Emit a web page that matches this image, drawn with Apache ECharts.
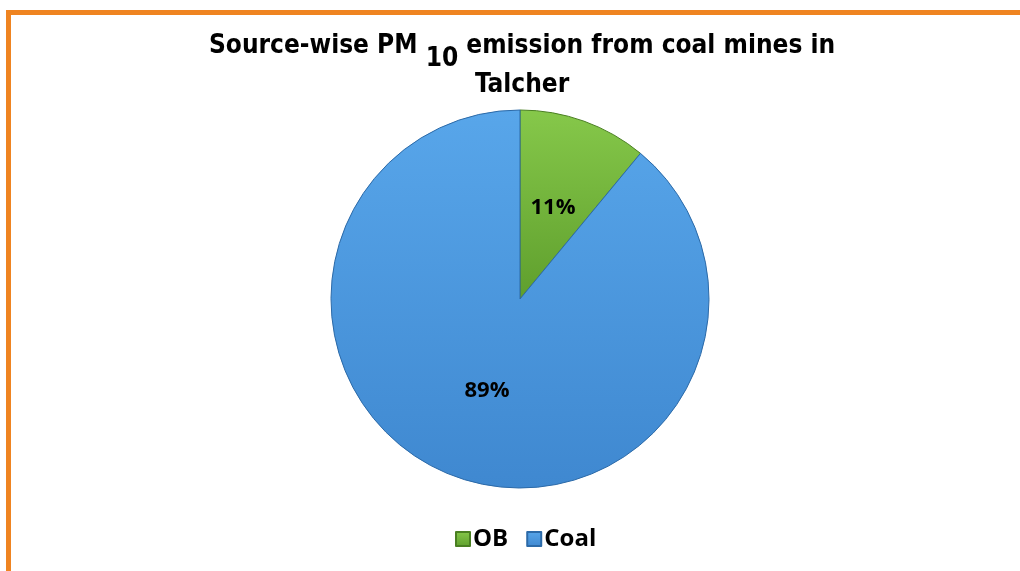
<!DOCTYPE html>
<html>
<head>
<meta charset="utf-8">
<title>Source-wise PM10 emission from coal mines in Talcher</title>
<script src="https://cdn.jsdelivr.net/npm/echarts@6/dist/echarts.min.js"></script>
<style>
  html, body { margin: 0; padding: 0; background: #ffffff; }
  #chart { width: 1020px; height: 571px; }
</style>
</head>
<body>
<div id="chart"></div>
<script>
// Emission sources and their share of PM10 (%)
const sources = ['OB', 'Coal'];
const shares = [11, 89];
const sliceColors = [
  ['#86c84a', '#5f9f2d', '#4a7f22'],   // light, dark, edge
  ['#58a6ea', '#3f88d0', '#2c6aa8']
];

const chart = echarts.init(document.getElementById('chart'));

const titleFont = '"Liberation Sans Narrow", "DejaVu Sans Condensed", "Open Sans", sans-serif';
const bodyFont = '"Open Sans", "Noto Sans", sans-serif';

chart.setOption({
  backgroundColor: '#ffffff',
  animation: false,
  title: {
    text: '{a|Source-wise PM }{sub|10}{a| emission from coal mines in}\n{a|Talcher}',
    left: 204,
    top: 28,
    textStyle: {
      align: 'center',
      rich: {
        a: { fontFamily: titleFont, fontWeight: 'bold', fontSize: 26, color: '#000', lineHeight: 32, verticalAlign: 'top', align: 'center' },
        sub: { fontFamily: titleFont, fontWeight: 'bold', fontSize: 26, color: '#000', lineHeight: 39, verticalAlign: 'bottom', align: 'center' }
      }
    }
  },
  legend: {
    bottom: 15,
    left: 450,
    itemWidth: 14,
    itemHeight: 14,
    itemGap: 18,
    icon: 'rect',
    textStyle: { fontFamily: bodyFont, fontWeight: 'bold', fontSize: 24, color: '#000', padding: [0, 0, 0, -2] },
    data: sources
  },
  graphic: [
    {
      type: 'polyline',
      silent: true,
      shape: { points: [[8.5, 571], [8.5, 12.5], [1020, 12.5]] },
      style: { stroke: '#ef8421', lineWidth: 5, fill: null }
    }
  ],
  series: [{
    type: 'pie',
    center: [520, 299],
    radius: 189,
    startAngle: 90,
    clockwise: true,
    label: {
      show: true,
      position: 'inside',
      formatter: '{d}%',
      fontFamily: bodyFont,
      fontWeight: 'bold',
      fontSize: 22,
      color: '#000'
    },
    labelLine: { show: false },
    emphasis: { disabled: true },
    data: sources.map((name, i) => ({
      name: name,
      value: shares[i],
      itemStyle: {
        color: new echarts.graphic.LinearGradient(0, 0, 0, 1, [
          { offset: 0, color: sliceColors[i][0] },
          { offset: 1, color: sliceColors[i][1] }
        ]),
        borderColor: sliceColors[i][2],
        borderWidth: 1
      }
    }))
  }]
});
</script>
</body>
</html>
